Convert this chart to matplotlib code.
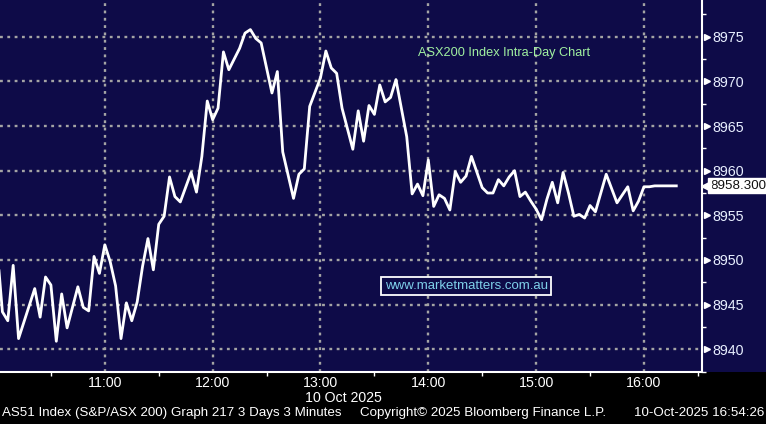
import matplotlib
matplotlib.use("Agg")
import matplotlib.pyplot as plt
from matplotlib.patches import Rectangle

# minutes after 10:00 (3 minute bars) and index level
minutes = [0, 3, 6, 9, 12, 21, 24, 27, 30, 33, 36, 39, 45, 48, 51, 54, 57, 60, 63, 66,
           69, 72, 75, 78, 81, 84, 87, 90, 93, 96, 99, 102, 108, 111, 114, 117, 120, 123, 126, 129,
           135, 138, 141, 144, 147, 150, 153, 156, 159, 165, 168, 171, 174, 180, 183, 186, 189, 192, 198, 201,
           204, 207, 210, 213, 216, 219, 222, 228, 231, 234, 237, 240, 243, 246, 249, 252, 255, 258, 261, 264,
           270, 273, 276, 279, 282, 285, 288, 291, 294, 297, 300, 303, 306, 309, 312, 315, 318, 321, 324, 327,
           330, 333, 339, 345, 351, 354, 357, 360, 363, 366, 378]
level = [8951.5, 8944.2, 8943.2, 8949.4, 8941.2, 8946.8, 8943.6, 8948.1, 8947.2, 8940.9,
         8946.2, 8942.4, 8947.0, 8944.7, 8944.3, 8950.4, 8948.5, 8951.7, 8949.8, 8947.1,
         8941.2, 8945.2, 8943.2, 8945.3, 8949.3, 8952.4, 8948.9, 8954.0, 8954.9, 8959.3,
         8957.1, 8956.5, 8959.8, 8957.6, 8961.6, 8967.8, 8965.7, 8967.0, 8973.3, 8971.3,
         8973.7, 8975.4, 8975.8, 8974.8, 8974.3, 8971.5, 8968.7, 8971.1, 8962.1, 8956.9,
         8959.6, 8960.2, 8967.2, 8970.4, 8973.4, 8971.5, 8970.9, 8967.0, 8962.4, 8966.7,
         8963.3, 8967.3, 8966.3, 8969.6, 8967.7, 8968.2, 8970.2, 8963.8, 8957.4, 8958.5,
         8957.2, 8961.2, 8956.0, 8957.3, 8956.9, 8955.6, 8959.9, 8958.7, 8959.4, 8961.6,
         8958.1, 8957.5, 8957.5, 8959.0, 8958.3, 8959.3, 8960.0, 8957.1, 8957.6, 8956.6,
         8955.7, 8954.5, 8956.8, 8958.7, 8956.4, 8959.8, 8957.5, 8954.9, 8955.1, 8954.7,
         8956.1, 8955.4, 8959.6, 8956.4, 8958.2, 8955.5, 8956.6, 8958.2, 8958.2, 8958.3,
         8958.3]

hour_ticks = [60, 120, 180, 240, 300, 360]
hour_labels = ["11:00", "12:00", "13:00", "14:00", "15:00", "16:00"]
half_ticks = [30, 90, 150, 210, 270, 330, 390]
y_ticks = [8940, 8945, 8950, 8955, 8960, 8965, 8970, 8975]
y_minor = [8937.5, 8942.5, 8947.5, 8952.5, 8957.5, 8962.5, 8967.5, 8972.5, 8977.5]

navy = "#0e0b48"
plt.rcParams["font.family"] = ["Liberation Sans", "DejaVu Sans"]

W, H = 766, 424
fig = plt.figure(figsize=(W / 100, H / 100), dpi=100, facecolor="black")
# navy band behind plot and right axis
fig.patches.append(Rectangle((0, 52 / H), 1, 372 / H, transform=fig.transFigure,
                             facecolor=navy, edgecolor="none", zorder=-5))

ax = fig.add_axes([0, 52 / H, 702 / W, 372 / H])
ax.set_zorder(2)
ax.set_facecolor(navy)
ax.set_xlim(1.67, 392.3)
ax.set_ylim(8937.46, 8979.11)

for s in ["left", "top"]:
    ax.spines[s].set_visible(False)
for s in ["right", "bottom"]:
    ax.spines[s].set_color("white")
    ax.spines[s].set_linewidth(1.5)

ax.grid(True, color="#a4a4a4", linestyle=(0, (1.2, 1.9)), linewidth=1.7)
ax.plot(minutes, level, color="white", lw=2.0, zorder=3)

# x axis
ax.set_xticks(hour_ticks)
ax.set_xticklabels(hour_labels, fontsize=10.2, color="white")
ax.set_xticks(half_ticks, minor=True)
ax.tick_params(axis="x", which="major", length=0, pad=3)
ax.tick_params(axis="x", which="minor", length=3, width=1, color="white", direction="out")

# y axis on right
ax.yaxis.tick_right()
ax.set_yticks(y_ticks)
ax.set_yticks(y_minor, minor=True)
ax.tick_params(axis="y", which="major", length=0, pad=7.5, labelsize=10.3, labelcolor="#e8efff")
ax.tick_params(axis="y", which="minor", length=3, width=1, color="white", direction="out")
ax.plot([1.0 + 5 / 702] * len(y_ticks), y_ticks, marker=">", ls="none", color="white", ms=5,
        transform=ax.get_yaxis_transform(), clip_on=False)

# last price tag
last = level[-1]
ax.text(1.0 + 8 / 702, last, f"{last:.3f}", transform=ax.get_yaxis_transform(),
        ha="left", va="center", fontsize=9.6, color="#101010", clip_on=False, zorder=6,
        bbox=dict(boxstyle="square,pad=0.12", fc="white", ec="white"))
ax.plot([1.0 + 4 / 702], [last], marker="<", ms=7, color="white",
        transform=ax.get_yaxis_transform(), clip_on=False, zorder=6)

ax.text(0.718, 0.857, "ASX200 Index Intra-Day Chart", transform=ax.transAxes,
        ha="center", va="center", fontsize=9.2, color="#a0f0a0")
ax.text(0.664, 0.231, "www.marketmatters.com.au", transform=ax.transAxes,
        ha="center", va="center", fontsize=9.5, color="#7fd0ea", zorder=5,
        bbox=dict(boxstyle="square,pad=0.25", fc=navy, ec="white", lw=1.3))

fig.text(305 / W, 1 - 398 / H, "10 Oct 2025", ha="left", va="center",
         fontsize=10.2, color="white")
fig.text(2 / W, 1 - 413 / H, "AS51 Index (S&P/ASX 200) Graph 217 3 Days 3 Minutes",
         ha="left", va="center", fontsize=9.6, color="white")
fig.text(483 / W, 1 - 413 / H, "Copyright\u00a9 2025 Bloomberg Finance L.P.",
         ha="center", va="center", fontsize=9.6, color="white")
fig.text(764 / W, 1 - 413 / H, "10-Oct-2025 16:54:26",
         ha="right", va="center", fontsize=9.6, color="white")

fig.savefig("out.png", dpi=100, facecolor="black")
